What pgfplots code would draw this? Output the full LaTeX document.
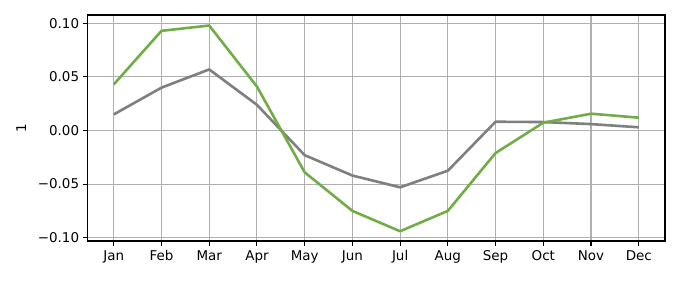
\documentclass[border=0pt]{standalone}
\usepackage{pgfplots}
\pgfplotsset{compat=1.18}
\usepackage{fontspec}
\setmainfont{DejaVu Sans}
\definecolor{cgreen}{HTML}{70AD47}
\definecolor{cgray}{HTML}{7F7F7F}
\definecolor{cgrid}{HTML}{B0B0B0}
\begin{document}
\begin{tikzpicture}[x=1bp,y=1bp]
\useasboundingbox (0,0) rectangle (680,280);
\begin{axis}[
  at={(87.5bp,39bp)}, anchor=south west,
  scale only axis, width=577.5bp, height=226bp,
  xmin=-0.55, xmax=11.55, ymin=-0.1031, ymax=0.1078,
  xtick={0,...,11},
  xticklabels={Jan,Feb,Mar,Apr,May,Jun,Jul,Aug,Sep,Oct,Nov,Dec},
  ytick={-0.1,-0.05,0,0.05,0.1},
  yticklabels={−0.10,−0.05,0.00,0.05,0.10},
  tick label style={font=\fontsize{13.5}{15}\selectfont},
  ylabel={1}, ylabel style={font=\fontsize{13.5}{15}\selectfont, xshift=0bp, yshift=5bp},
  grid=major, grid style={cgrid, line width=1.1bp},
  axis line style={black, line width=1.1bp},
  tick style={black, line width=1.1bp},
  tick align=outside, major tick length=4.9bp,
  xtick pos=bottom, ytick pos=left,
  xticklabel style={yshift=-1bp},
]
\addplot[cgray, line width=2.6bp, line join=round] coordinates {
(0,0.015) (1,0.040) (2,0.057) (3,0.024) (4,-0.023) (5,-0.042)
(6,-0.053) (7,-0.0375) (8,0.0082) (9,0.0079) (10,0.006) (11,0.003)};
\addplot[cgreen, line width=2.6bp, line join=round] coordinates {
(0,0.043) (1,0.093) (2,0.098) (3,0.041) (4,-0.039) (5,-0.075)
(6,-0.094) (7,-0.075) (8,-0.021) (9,0.0073) (10,0.0157) (11,0.012)};
\end{axis}
\end{tikzpicture}
\end{document}
